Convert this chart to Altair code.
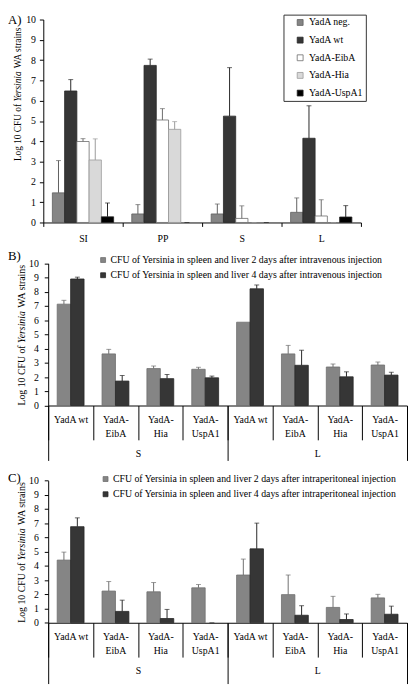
import altair as alt
import pandas as pd

FONT = "Liberation Serif"

# ---------------- Panel A data ----------------
A_SITES = ["SI", "PP", "S", "L"]
A_STRAINS = ["YadA neg.", "YadA wt", "YadA-EibA", "YadA-Hia", "YadA-UspA1"]
A_NEG = [1.46, 0.42, 0.42, 0.50]
A_NEG_ERR = [1.59, 0.46, 0.49, 0.71]
A_WT = [6.48, 7.74, 5.24, 4.15]
A_WT_ERR = [0.56, 0.31, 2.39, 1.60]
A_EIBA = [3.99, 5.05, 0.20, 0.32]
A_EIBA_ERR = [0.14, 0.56, 0.62, 0.80]
A_HIA = [3.08, 4.59, 0.00, 0.00]
A_HIA_ERR = [1.04, 0.38, 0.00, 0.00]
A_USPA1 = [0.28, 0.00, 0.00, 0.27]
A_USPA1_ERR = [0.68, 0.00, 0.00, 0.56]
A_FILLS = ["#858585", "#363636", "#ffffff", "#d9d9d9", "#000000"]
A_LINES = ["#5e5e5e", "#262626", "#6a6a6a", "#9a9a9a", "#222222"]

# ---------------- Panels B and C data ----------------
ORGANS = ["S", "L"]
STRAINS = ["YadA wt", "YadA-EibA", "YadA-Hia", "YadA-UspA1"]
B_SERIES = ["CFU of Yersinia in spleen and liver 2 days after intravenous injection",
            "CFU of Yersinia in spleen and liver 4 days after intravenous injection"]
B_DAY2 = [7.13, 3.63, 2.60, 2.55, 5.86, 3.63, 2.71, 2.85]
B_DAY2_ERR = [0.27, 0.32, 0.18, 0.14, 0.00, 0.60, 0.21, 0.21]
B_DAY4 = [8.90, 1.72, 1.89, 1.95, 8.21, 2.83, 2.02, 2.14]
B_DAY4_ERR = [0.13, 0.39, 0.29, 0.12, 0.27, 1.06, 0.35, 0.20]
C_SERIES = ["CFU of Yersinia in spleen and liver 2 days after intraperitoneal injection",
            "CFU of Yersinia in spleen and liver 4 days after intraperitoneal injection"]
C_DAY2 = [4.41, 2.23, 2.18, 2.46, 3.36, 1.98, 1.08, 1.75]
C_DAY2_ERR = [0.56, 0.67, 0.65, 0.23, 1.12, 1.38, 0.78, 0.25]
C_DAY4 = [6.76, 0.80, 0.30, 0.00, 5.20, 0.53, 0.23, 0.60]
C_DAY4_ERR = [0.62, 0.79, 0.64, 0.00, 1.81, 0.67, 0.39, 0.57]
BC_FILLS = ["#858585", "#363636"]
BC_LINES = ["#6e6e6e", "#262626"]

Y_TICKS = list(range(0, 11))

# ---------------- layout (pixels) ----------------
W, H = 408, 677
A_X, A_Y = [36, 360], [212, 5]
B_X, B_Y = [41, 407], [398.7, 253.7]
C_X, C_Y = [41, 407], [620.3, 475.3]

# ---------------- frames ----------------
def frame(keys, series, means, errs):
    rows = []
    for s, m, e in zip(series, means, errs):
        for k, v, d in zip(keys, m, e):
            rows.append({"key": k, "series": s, "val": v, "err": d, "hi": v + d})
    return pd.DataFrame(rows)

dfA = frame(A_SITES, A_STRAINS,
            [A_NEG, A_WT, A_EIBA, A_HIA, A_USPA1],
            [A_NEG_ERR, A_WT_ERR, A_EIBA_ERR, A_HIA_ERR, A_USPA1_ERR])
BC_KEYS = [f"{o}/{s}" for o in ORGANS for s in STRAINS]
dfB = frame(BC_KEYS, B_SERIES, [B_DAY2, B_DAY4], [B_DAY2_ERR, B_DAY4_ERR])
dfC = frame(BC_KEYS, C_SERIES, [C_DAY2, C_DAY4], [C_DAY2_ERR, C_DAY4_ERR])

# ---------------- helpers ----------------
def core(df, keys, series, fills, lines, xr, yr, xpad, xaxis, yaxis, legend):
    xs = alt.Scale(domain=keys, range=xr, paddingInner=0, paddingOuter=0)
    x = alt.X("key:N", scale=xs, axis=xaxis, sort=keys)
    xo = alt.XOffset("series:N", scale=alt.Scale(domain=series, paddingInner=0, paddingOuter=xpad))
    ys = alt.Scale(domain=[0, 10], range=yr, nice=False, zero=True)
    line_scale = alt.Scale(domain=series, range=lines)
    base = alt.Chart(df)
    bars = base.transform_filter("datum.val > 0").mark_bar(strokeWidth=0.8).encode(
        x=x, xOffset=xo,
        y=alt.Y("val:Q", scale=ys, axis=yaxis),
        color=alt.Color("series:N", scale=alt.Scale(domain=series, range=fills), legend=legend),
        stroke=alt.Stroke("series:N", scale=line_scale, legend=None),
    )
    whisk = base.transform_filter("datum.err > 0").mark_rule(strokeWidth=1).encode(
        x=x, xOffset=xo,
        y=alt.Y("val:Q", scale=ys, axis=yaxis), y2="hi:Q",
        stroke=alt.Stroke("series:N", scale=line_scale, legend=None),
    )
    caps = base.transform_filter("datum.err > 0 || datum.val == 0").mark_tick(
        orient="horizontal", size=5, thickness=1).encode(
        x=x, xOffset=xo,
        y=alt.Y("hi:Q", scale=ys, axis=yaxis),
        fill=alt.Fill("series:N", scale=line_scale, legend=None),
    )
    return alt.layer(bars, whisk, caps)


def y_axis(pos, pad):
    return alt.Axis(orient="left", offset=-pos, values=Y_TICKS, tickSize=4, labelPadding=pad,
                    grid=False, title=None, labelFontSize=10)


def txt(text, x, y, size, style="normal", angle=0):
    return alt.Chart(alt.Data(values=[{}])).mark_text(
        text=text, align="left", baseline="alphabetic", angle=angle, font=FONT,
        fontSize=size, fontStyle=style, color="black").encode(x=alt.value(x), y=alt.value(y))


# Times metrics (per 1000 em) for the y title pieces
ROMAN = {"L": 611, "o": 500, "g": 500, " ": 250, "1": 500, "0": 500, "C": 667, "F": 556,
         "U": 722, "f": 333, "W": 944, "A": 722, "s": 389, "t": 278, "r": 333, "a": 444,
         "i": 278, "n": 500}
ITALIC = {"Y": 556, "e": 444, "r": 389, "s": 389, "i": 278, "n": 500, "a": 500}
TITLE_PIECES = [("Log 10 CFU of ", "normal"), ("Yersinia", "italic"), (" WA strains", "normal")]


def width(s, style, size):
    table = ITALIC if style == "italic" else ROMAN
    return sum(table[c] for c in s) / 1000 * size


def title_len(size):
    return sum(width(p, s, size) for p, s in TITLE_PIECES)


def y_title(x, y_bottom, size):
    layers = []
    y = y_bottom
    for piece, style in TITLE_PIECES:
        lead = len(piece) - len(piece.lstrip(" "))
        start = y - width(piece[:lead], "normal", size)
        layers.append(txt(piece.strip(" "), x, start, size, style, angle=270))
        y -= width(piece, style, size)
    return layers


def group_axis(xr, y0, tick_len, pad):
    return alt.Chart(pd.DataFrame({"organ": ORGANS})).mark_point(opacity=0).encode(
        x=alt.X("organ:N", sort=ORGANS,
                scale=alt.Scale(domain=ORGANS, range=xr, paddingInner=0, paddingOuter=0),
                axis=alt.Axis(orient="bottom", offset=y0 - H, domain=False, tickBand="extent",
                              tickSize=tick_len, labelPadding=pad, labelAngle=0,
                              labelFontSize=10, title=None)),
        y=alt.value(0),
    )


SUB_LABEL = "split(replace(peek(split(datum.label, '/')), 'YadA-', 'YadA-~'), '~')"


def sub_axis(y0):
    return alt.Axis(orient="bottom", offset=y0 - H, tickBand="extent", tickSize=35,
                    labelPadding=-25.6, labelAngle=0, labelExpr=SUB_LABEL,
                    labelLineHeight=14, labelBaseline="top", labelFontSize=10, title=None)


def pair_legend(x, y):
    return alt.Legend(orient="none", legendX=x, legendY=y, title=None, padding=0,
                      rowPadding=5.5, labelOffset=2.5, symbolType="square", symbolSize=25,
                      symbolStrokeColor="#333", symbolStrokeWidth=0.8, labelLimit=400,
                      labelFontSize=10)


# ---------------- Panel A ----------------
axA_x = alt.Axis(orient="bottom", offset=A_Y[0] - H, tickBand="extent", tickSize=4,
                 labelPadding=7, labelAngle=0, labelFontSize=10, title=None)
legA = alt.Legend(orient="none", legendX=281, legendY=0, title=None, padding=3,
                  symbolOffset=9, rowPadding=8, labelOffset=4, symbolType="square",
                  symbolSize=36, symbolStrokeColor="#333", symbolStrokeWidth=0.8,
                  strokeColor="#333", fillColor="white", labelFontSize=10, labelLimit=200)
coreA = core(dfA, A_SITES, A_STRAINS, A_FILLS, A_LINES, A_X, A_Y, 0.74,
             axA_x, y_axis(A_X[0], 4), legA)
tA = 9.5
panelA = alt.layer(coreA, *y_title(13, 80.5 + title_len(tA) / 2, tA), txt("A)", 0, 10, 13))

# ---------------- Panel B ----------------
coreB = core(dfB, BC_KEYS, B_SERIES, BC_FILLS, BC_LINES, B_X, B_Y, 0.67,
             sub_axis(B_Y[0]), y_axis(B_X[0], 6), pair_legend(92, 245.3))
panelB = alt.layer(coreB, group_axis(B_X, B_Y[0], 56, -12),
                   *y_title(17, (B_Y[0] + B_Y[1]) / 2 + title_len(10) / 2, 10),
                   txt("B)", 0, 250, 13)).resolve_scale(x="independent").resolve_axis(x="independent")

# ---------------- Panel C ----------------
coreC = core(dfC, BC_KEYS, C_SERIES, BC_FILLS, BC_LINES, C_X, C_Y, 0.67,
             sub_axis(C_Y[0]), y_axis(C_X[0], 6), pair_legend(94.5, 468.7))
panelC = alt.layer(coreC, group_axis(C_X, C_Y[0], 62, -18),
                   *y_title(17, (C_Y[0] + C_Y[1]) / 2 + title_len(10) / 2, 10),
                   txt("C)", 0, 477, 13)).resolve_scale(x="independent").resolve_axis(x="independent")

chart = alt.layer(panelA, panelB, panelC).resolve_scale(
    x="independent", y="independent", color="independent", stroke="independent",
    fill="independent", xOffset="independent",
).resolve_axis(x="independent", y="independent").properties(
    width=W, height=H, autosize=alt.AutoSizeParams(type="none"), padding=0,
).configure_view(strokeWidth=0).configure_axis(
    labelFont=FONT, labelColor="black", domainColor="black", tickColor="black",
    domainWidth=1, tickWidth=1,
).configure_legend(labelFont=FONT, labelColor="black")

chart.save("out.html", embed_options={"renderer": "svg", "actions": False})
